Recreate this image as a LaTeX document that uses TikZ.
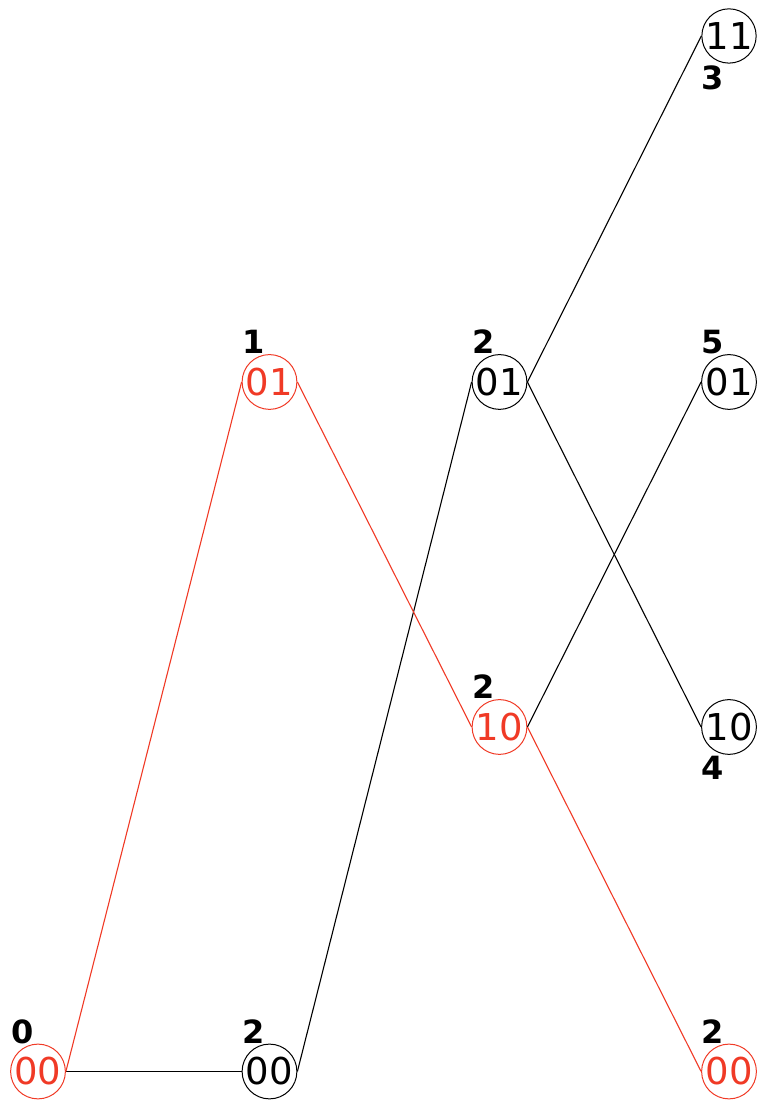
\documentclass[tikz,border=0pt]{standalone}
\usepackage{fontspec}
\setmainfont{DejaVu Sans}
\definecolor{pathred}{RGB}{240,58,38}
\begin{document}
\begin{tikzpicture}[x=1pt,y=1pt,
  st/.style={circle,draw,line width=0.5pt,minimum size=27pt,inner sep=0pt,
    font=\fontsize{18.5}{22}\selectfont},
  redst/.style={st,draw=pathred,text=pathred},
  lbl/.style={font=\bfseries\fontsize{16}{19}\selectfont,inner sep=0pt},
  edge/.style={line width=0.55pt},
  redge/.style={line width=0.55pt,draw=pathred}]
\useasboundingbox (0,0) rectangle (380,550.5);
\node[redst] (A) at (19,14.75) {00};
\node[st] (B) at (134.75,14.75) {00};
\node[redst] (C) at (134.75,359.5) {01};
\node[st] (D) at (249.75,359.5) {01};
\node[redst] (E) at (249.75,187) {10};
\node[st] (F) at (364.5,532.5) {11};
\node[st] (G) at (364.5,359.5) {01};
\node[st] (H) at (364.5,187) {10};
\node[redst] (I) at (364.5,14.75) {00};
\node[lbl] (lA) at (11.25,34.5) {0};
\node[lbl] (lB) at (126.75,34.5) {2};
\node[lbl] (lC) at (126.75,379.5) {1};
\node[lbl] (lD) at (241.75,379.5) {2};
\node[lbl] (lE) at (241.75,207) {2};
\node[lbl] (lF) at (356.5,511.5) {3};
\node[lbl] (lG) at (356.5,379.5) {5};
\node[lbl] (lH) at (356.5,166.5) {4};
\node[lbl] (lI) at (356.5,34.5) {2};
\draw[edge] (A.east) -- (B.west);
\draw[edge] (B.east) -- (D.west);
\draw[edge] (D.east) -- (F.west);
\draw[edge] (D.east) -- (H.west);
\draw[edge] (E.east) -- (G.west);
\draw[redge] (A.east) -- (C.west);
\draw[redge] (C.east) -- (E.west);
\draw[redge] (E.east) -- (I.west);
\end{tikzpicture}
\end{document}
